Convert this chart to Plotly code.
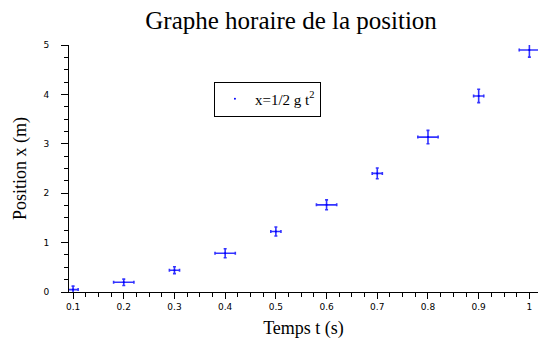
import plotly.graph_objects as go

t = [0.1, 0.2, 0.3, 0.4, 0.5, 0.6, 0.7, 0.8, 0.9, 1.0]
x = [0.049, 0.196, 0.441, 0.784, 1.225, 1.764, 2.401, 3.136, 3.969, 4.9]
err_t = [0.01, 0.02, 0.01, 0.02, 0.01, 0.02, 0.01, 0.02, 0.01, 0.02]
err_x = [0.07, 0.065, 0.07, 0.09, 0.09, 0.1, 0.11, 0.135, 0.135, 0.145]

blue = "rgba(0,0,255,0.8)"

fig = go.Figure()
fig.add_trace(go.Scatter(
    x=t, y=x, mode="markers",
    name="x=1/2 g t<sup>2</sup>",
    marker=dict(color="#0000ff", size=2),
    error_x=dict(type="data", array=err_t, color=blue, thickness=1.6, width=1.5),
    error_y=dict(type="data", array=err_x, color=blue, thickness=1.6, width=1.5),
    cliponaxis=False,
))

tickfont = dict(family="DejaVu Sans", size=9, color="black")
serif = "Liberation Serif"

fig.update_layout(
    width=538, height=342,
    margin=dict(l=69, r=0, t=45, b=50, autoexpand=False),
    paper_bgcolor="white", plot_bgcolor="white",
    title=dict(text="Graphe horaire de la position", x=0.541, xref="container",
               xanchor="center", y=0.94, yref="container", yanchor="middle",
               automargin=False,
               font=dict(family=serif, size=25, color="black")),
    showlegend=True,
    legend=dict(x=0.309, y=0.852, xanchor="left", yanchor="top",
                bordercolor="black", borderwidth=1, bgcolor="white",
                font=dict(family=serif, size=15, color="black")),
    xaxis=dict(range=[0.092, 1.017], tickmode="array", automargin=False,
               tickvals=[0.1, 0.2, 0.3, 0.4, 0.5, 0.6, 0.7, 0.8, 0.9, 1.0],
               ticktext=["0.1", "0.2", "0.3", "0.4", "0.5", "0.6", "0.7", "0.8", "0.9", "1"],
               showgrid=False, zeroline=False, showline=True, linecolor="black", linewidth=1,
               ticks="outside", ticklen=6, tickcolor="black", tickfont=tickfont,
               minor=dict(dtick=0.025, tick0=0.1, ticks="outside", ticklen=4, tickcolor="black", showgrid=False),
               title=dict(text="Temps t (s)", font=dict(family=serif, size=18, color="black"), standoff=10)),
    yaxis=dict(range=[0, 5], tickmode="array", tickvals=[0, 1, 2, 3, 4, 5], automargin=False,
               ticktext=["0", "1", "2", "3", "4", "5"],
               showgrid=False, zeroline=False, showline=True, linecolor="black", linewidth=1,
               ticks="outside", ticklen=7, tickcolor="black", tickfont=tickfont,
               ticklabelstandoff=10,
               minor=dict(dtick=0.25, tick0=0, ticks="outside", ticklen=4, tickcolor="black", showgrid=False),
               title=dict(text="Position x (m)", font=dict(family=serif, size=18, color="black"), standoff=12)),
)

fig.write_html("out.html", config={"displayModeBar": False},
               post_script="document.body.style.margin='0';document.body.style.padding='0';")
